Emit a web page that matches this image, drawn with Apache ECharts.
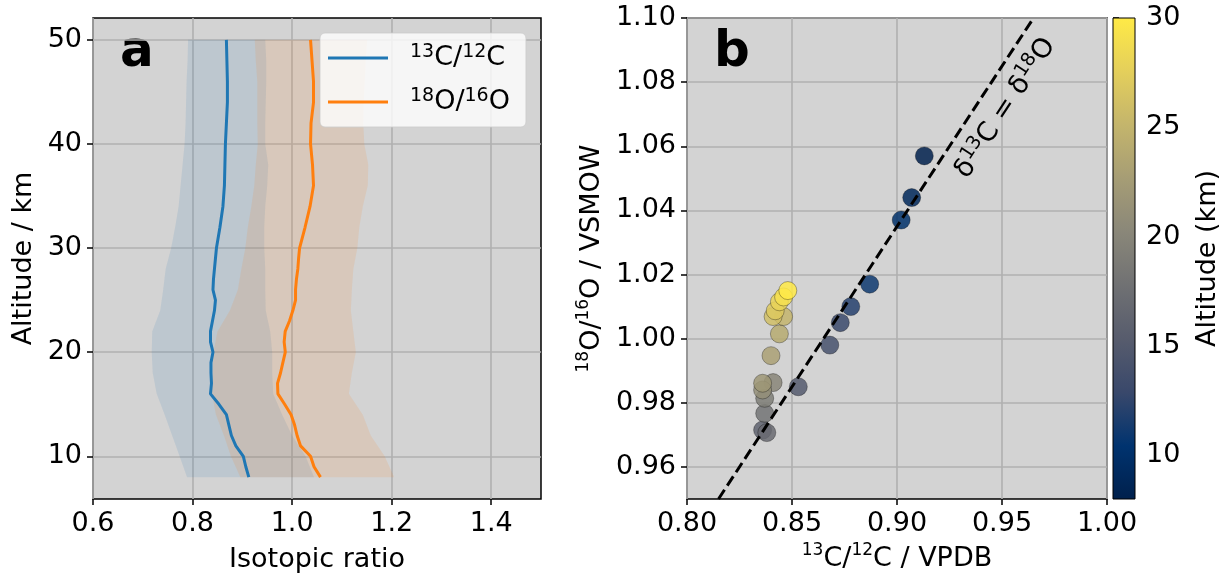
<!DOCTYPE html>
<html>
<head>
<meta charset="utf-8">
<script src="https://cdn.jsdelivr.net/npm/echarts@6/dist/echarts.min.js"></script>
<style>
  html, body { margin: 0; padding: 0; background: #fff; }
  #chart { width: 1226px; height: 574px; }
</style>
</head>
<body>
<div id="chart"></div>
<script>
// mean profiles, altitude in km (1 km steps up to 30 km, 2 km above)
const altitudes = [8, 9, 10, 11, 12, 13, 14, 15, 16, 17, 18, 19, 20, 21, 22, 23, 24, 25, 26, 27, 28, 29, 30,
  32, 34, 36, 38, 40, 42, 44, 46, 48, 50]
const c13Ratio = [0.913, 0.907, 0.902, 0.887, 0.878, 0.873, 0.868, 0.853, 0.836, 0.838, 0.837, 0.837, 0.841, 0.836, 0.836, 0.840, 0.844, 0.846, 0.841, 0.842, 0.844, 0.846, 0.848,
  0.855, 0.861, 0.864, 0.865, 0.866, 0.868, 0.870, 0.870, 0.869, 0.868]
const o18Ratio = [1.057, 1.044, 1.037, 1.017, 1.010, 1.005, 0.998, 0.985, 0.9715, 0.9707, 0.9767, 0.9814, 0.9863, 0.984, 0.9861, 0.9947, 1.0015, 1.0069, 1.0069, 1.0087, 1.0115, 1.013, 1.015,
  1.026, 1.036, 1.043, 1.041, 1.037, 1.038, 1.043, 1.043, 1.040, 1.037]

// spread of the profiles
const bandAltitudes = [8, 10, 12, 14, 16, 18, 20, 22, 24, 26, 28, 30, 32, 34, 36, 38, 40, 42, 44, 46, 48, 50]
const c13Low = [0.789, 0.774, 0.759, 0.744, 0.728, 0.720, 0.718, 0.719, 0.735, 0.741, 0.746, 0.757, 0.765, 0.772, 0.776, 0.780, 0.784, 0.786, 0.787, 0.788, 0.790, 0.791]
const c13High = [1.044, 1.027, 1.000, 0.980, 0.962, 0.960, 0.960, 0.956, 0.947, 0.946, 0.946, 0.944, 0.944, 0.946, 0.950, 0.952, 0.946, 0.946, 0.947, 0.948, 0.948, 0.946]
const o18Low = [0.896, 0.877, 0.863, 0.847, 0.839, 0.840, 0.842, 0.850, 0.875, 0.891, 0.898, 0.906, 0.911, 0.918, 0.924, 0.927, 0.931, 0.930, 0.930, 0.930, 0.927, 0.925]
const o18High = [1.205, 1.186, 1.158, 1.142, 1.114, 1.120, 1.128, 1.123, 1.118, 1.120, 1.123, 1.131, 1.135, 1.142, 1.152, 1.153, 1.145, 1.143, 1.144, 1.146, 1.148, 1.151]

const seriesNames = ['13C/12C', '18O/16O']
const scatterMaxAlt = 30

// delta13C = delta18O line
const equalDeltaX = [0.815, 0.965]
const equalDeltaY = [0.95, 1.10]

const leftXTicks = [0.6, 0.8, 1.0, 1.2, 1.4]
const leftYTicks = [10, 20, 30, 40, 50]
const rightXTicks = [0.80, 0.85, 0.90, 0.95, 1.00]
const rightYTicks = [0.96, 0.98, 1.00, 1.02, 1.04, 1.06, 1.08, 1.10]
const altTicks = [10, 15, 20, 25, 30]
const altRange = [8, 30]

const cividis = ['#00204c', '#00336f', '#39486b', '#575c6d', '#707173', '#8a8779', '#a69d75', '#c4b56c', '#e4cf5b', '#ffea46']

const FONT = 'DejaVu Sans'
const sup = { fontSize: 17, verticalAlign: 'top', fontFamily: FONT, color: '#000' }
const withSup = (s) => s.replace(/(\d+)([A-Z])/g, '{s|$1}$2')

const chart = echarts.init(document.getElementById('chart'))

function valueAxis(grid, min, max, ticks, digits, extra) {
  return Object.assign({
    type: 'value',
    gridIndex: grid,
    min: min,
    max: max,
    axisLine: { show: false },
    axisTick: { show: true, length: 6, lineStyle: { color: '#000', width: 1.5 }, customValues: ticks },
    axisLabel: {
      color: '#000', fontSize: 27, fontFamily: FONT, margin: 11,
      customValues: ticks,
      formatter: (v) => v.toFixed(digits),
    },
    splitLine: { show: true, lineStyle: { color: '#b0b0b0', width: 1.6 } },
    nameTextStyle: { color: '#000', fontSize: 27, fontFamily: FONT, lineHeight: 34, rich: { s: sup } },
  }, extra)
}

function bandSeries(low, high, color) {
  return {
    type: 'custom',
    xAxisIndex: 0,
    yAxisIndex: 0,
    silent: true,
    z: 1,
    data: [[low[0], bandAltitudes[0]]],
    renderItem: (params, api) => {
      const pts = []
      bandAltitudes.forEach((a, i) => pts.push(api.coord([low[i], a])))
      for (let i = bandAltitudes.length - 1; i >= 0; i--) pts.push(api.coord([high[i], bandAltitudes[i]]))
      return { type: 'polygon', shape: { points: pts }, style: { fill: color } }
    },
  }
}

const scatterData = altitudes
  .map((a, i) => [c13Ratio[i], o18Ratio[i], a])
  .filter((d) => d[2] <= scatterMaxAlt)

const option = {
  backgroundColor: '#fff',
  animation: false,
  textStyle: { fontFamily: FONT },
  grid: [
    { left: 93, top: 18, width: 448, height: 481, outerBoundsMode: 'none', show: true, backgroundColor: '#d3d3d3', borderColor: '#000', borderWidth: 1.5 },
    { left: 687, top: 18, width: 420, height: 481, outerBoundsMode: 'none', show: true, backgroundColor: '#d3d3d3', borderColor: '#000', borderWidth: 1.5 },
    { left: 1113, top: 18, width: 22, height: 481, outerBoundsMode: 'none' },
  ],
  xAxis: [
    valueAxis(0, 0.6, 1.5, leftXTicks, 1, { name: 'Isotopic ratio', nameLocation: 'middle', nameGap: 44 }),
    valueAxis(1, 0.8, 1.0, rightXTicks, 2, { name: withSup('13C/12C / VPDB'), nameLocation: 'middle', nameGap: 40 }),
    { type: 'value', gridIndex: 2, min: 0, max: 1, show: false },
  ],
  yAxis: [
    valueAxis(0, 5.9, 52.1, leftYTicks, 0, { name: 'Altitude / km', nameLocation: 'middle', nameGap: 52 }),
    valueAxis(1, 0.95, 1.10, rightYTicks, 2, { name: withSup('18O/16O / VSMOW'), nameLocation: 'middle', nameGap: 78 }),
    valueAxis(2, altRange[0], altRange[1], altTicks, 0, {
      position: 'right', name: 'Altitude (km)', nameLocation: 'middle', nameGap: 56,
      splitLine: { show: false },
    }),
  ],
  visualMap: {
    type: 'continuous',
    show: false,
    min: altRange[0],
    max: altRange[1],
    dimension: 2,
    seriesIndex: 4,
    inRange: { color: cividis },
  },
  legend: {
    data: seriesNames.map((n) => ({ name: n, icon: 'rect' })),
    orient: 'vertical',
    left: 320,
    top: 33,
    itemWidth: 60,
    itemHeight: 3,
    itemGap: 14,
    padding: [10, 16, 10, 8],
    backgroundColor: 'rgba(255,255,255,0.8)',
    borderColor: 'rgba(204,204,204,0.8)',
    borderWidth: 1,
    borderRadius: 5,
    formatter: (name) => withSup(name),
    textStyle: { color: '#000', fontSize: 27, fontFamily: FONT, padding: [0, 0, 0, 17], lineHeight: 30, rich: { s: Object.assign({}, sup, { fontSize: 19 }) } },
  },
  graphic: [
    { type: 'text', left: 120, top: 28, style: { text: 'a', font: 'bold 50px "DejaVu Sans"', fill: '#000' } },
    { type: 'text', left: 714, top: 28, style: { text: 'b', font: 'bold 50px "DejaVu Sans"', fill: '#000' } },
  ],
  series: [
    bandSeries(c13Low, c13High, 'rgba(31,119,180,0.12)'),
    bandSeries(o18Low, o18High, 'rgba(255,127,14,0.12)'),
    {
      name: seriesNames[0],
      type: 'line',
      xAxisIndex: 0,
      yAxisIndex: 0,
      symbol: 'none',
      z: 3,
      color: '#1f77b4',
      lineStyle: { color: '#1f77b4', width: 3 },
      data: altitudes.map((a, i) => [c13Ratio[i], a]),
    },
    {
      name: seriesNames[1],
      type: 'line',
      xAxisIndex: 0,
      yAxisIndex: 0,
      symbol: 'none',
      z: 3,
      color: '#ff7f0e',
      lineStyle: { color: '#ff7f0e', width: 3 },
      data: altitudes.map((a, i) => [o18Ratio[i], a]),
    },
    {
      type: 'scatter',
      xAxisIndex: 1,
      yAxisIndex: 1,
      symbolSize: 18,
      z: 2,
      itemStyle: { opacity: 0.85, borderColor: 'rgba(0,0,0,0.45)', borderWidth: 0.8 },
      data: scatterData,
    },
    {
      type: 'line',
      xAxisIndex: 1,
      yAxisIndex: 1,
      data: [],
      z: 4,
      markLine: {
        silent: true,
        symbol: ['none', 'none'],
        lineStyle: { color: '#000', width: 3, type: [11, 5] },
        label: {
          show: true,
          position: 'insideEndBottom',
          distance: 10,
          color: '#000',
          fontSize: 27,
          fontFamily: FONT,
          lineHeight: 32,
          formatter: 'δ{s|13}C = δ{s|18}O',
          rich: { s: Object.assign({}, sup, { fontSize: 19 }) },
        },
        data: [[{ coord: [equalDeltaX[0], equalDeltaY[0]] }, { coord: [equalDeltaX[1], equalDeltaY[1]] }]],
      },
    },
    {
      type: 'custom',
      xAxisIndex: 2,
      yAxisIndex: 2,
      silent: true,
      data: [[0, altRange[0]]],
      renderItem: (params, api) => {
        const p0 = api.coord([0, altRange[0]])
        const p1 = api.coord([1, altRange[1]])
        return {
          type: 'rect',
          shape: { x: p0[0], y: p1[1], width: p1[0] - p0[0], height: p0[1] - p1[1] },
          style: {
            fill: new echarts.graphic.LinearGradient(0, 1, 0, 0,
              cividis.map((c, i) => ({ offset: i / (cividis.length - 1), color: c }))),
            stroke: '#000',
            lineWidth: 1,
          },
        }
      },
    },
  ],
}

chart.setOption(option)
</script>
</body>
</html>
